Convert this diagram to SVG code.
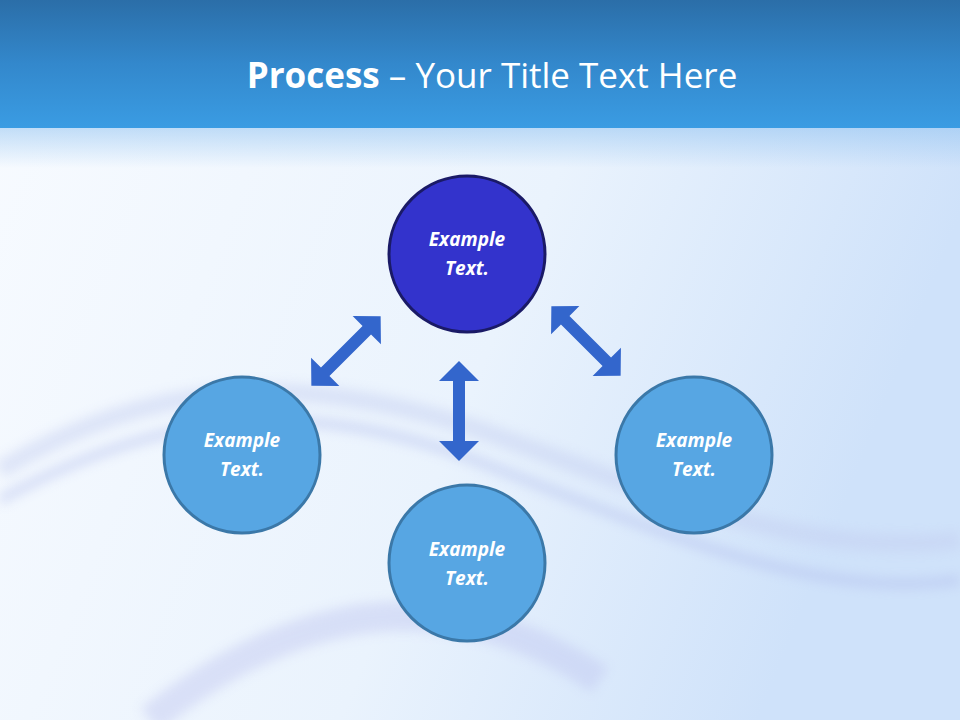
<svg xmlns="http://www.w3.org/2000/svg" width="960" height="720" viewBox="0 0 960 720">
<defs>
<linearGradient id="hdr" x1="0" y1="0" x2="0" y2="1"><stop offset="0" stop-color="#2b6ea8"/><stop offset="0.5" stop-color="#3388cc"/><stop offset="1" stop-color="#3a9ce3"/></linearGradient>
<linearGradient id="bg" x1="0" y1="0" x2="1" y2="0.3"><stop offset="0" stop-color="#f8fbff"/><stop offset="0.6" stop-color="#eaf3fd"/><stop offset="1" stop-color="#cfe2fa"/></linearGradient>
<linearGradient id="fade" x1="0" y1="0" x2="0" y2="1"><stop offset="0" stop-color="#8cc0f0"/><stop offset="1" stop-color="#8cc0f0" stop-opacity="0"/></linearGradient>
<filter id="blur"><feGaussianBlur stdDeviation="6"/></filter>
<polygon id="dbl" points="-50,0 -30,-20 -30,-6 30,-6 30,-20 50,0 30,20 30,6 -30,6 -30,20"/>
</defs>
<style>
.n{fill:#57a6e3;stroke:#3b78a8;stroke-width:3}
.t{fill:#fff;font-family:"Open Sans","Liberation Sans",sans-serif;font-weight:bold;font-style:italic;font-size:19px;text-anchor:middle}
.a{fill:#3366cc}
</style>
<rect width="960" height="720" fill="url(#bg)"/>
<g filter="url(#blur)" opacity="0.45">
<path d="M0,470 C150,380 300,370 480,430 C650,490 800,560 960,540" fill="none" stroke="#c3cdf0" stroke-width="18"/>
<path d="M0,500 C180,400 330,400 500,470 C680,540 820,600 960,580" fill="none" stroke="#b0bcec" stroke-width="10"/>
<path d="M150,720 C300,600 450,580 600,680" fill="none" stroke="#c0c6f0" stroke-width="30"/>
</g>
<rect width="960" height="128" fill="url(#hdr)"/>
<rect y="128" width="960" height="40" fill="url(#fade)" opacity="0.5"/>
<text x="492" y="88" text-anchor="middle" fill="#fff" font-family="'Open Sans','Liberation Sans',sans-serif" font-size="35"><tspan font-weight="bold">Process</tspan> – Your Title Text Here</text>
<g id="connectors">
<use href="#dbl" class="a" transform="translate(346,351) rotate(-45) scale(0.98,1)"/>
<use href="#dbl" class="a" transform="translate(586,341) rotate(45) scale(0.98,1)"/>
<use href="#dbl" class="a" transform="translate(459,411) rotate(90)"/>
</g>
<g id="top"><circle cx="467" cy="254" r="78" fill="#3333cc" stroke="#1a1a66" stroke-width="3"/><text class="t" x="467" y="246">Example</text><text class="t" x="467" y="275">Text.</text></g>
<g id="left"><circle class="n" cx="242" cy="455" r="78"/><text class="t" x="242" y="447">Example</text><text class="t" x="242" y="476">Text.</text></g>
<g id="bottom"><circle class="n" cx="467" cy="563" r="78"/><text class="t" x="467" y="556">Example</text><text class="t" x="467" y="585">Text.</text></g>
<g id="right"><circle class="n" cx="694" cy="455" r="78"/><text class="t" x="694" y="447">Example</text><text class="t" x="694" y="476">Text.</text></g>
</svg>
